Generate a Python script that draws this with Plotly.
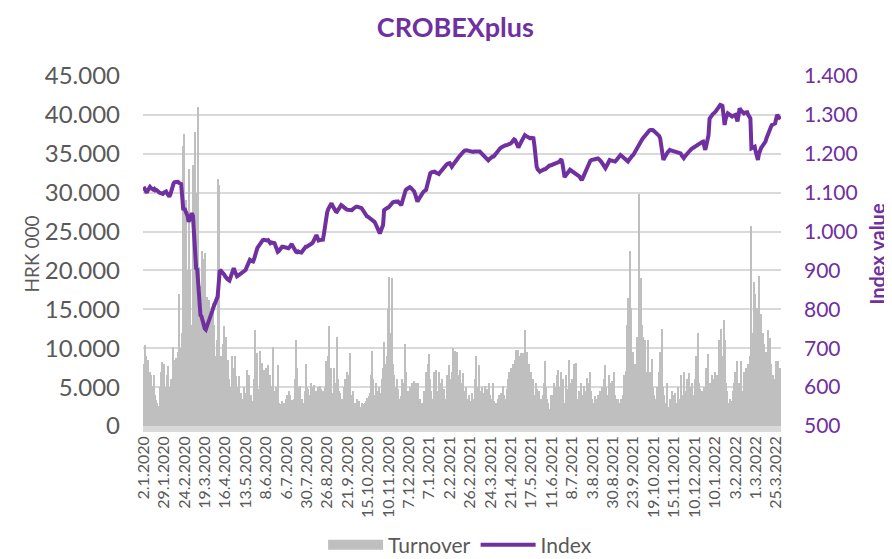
"""CROBEXplus index and daily turnover, 2020-2022."""
import plotly.graph_objects as go
from plotly.subplots import make_subplots

# x axis labels, one every 19 trading days
tick_labels = ['2.1.2020', '29.1.2020', '24.2.2020', '19.3.2020', '16.4.2020', '13.5.2020',
               '8.6.2020', '6.7.2020', '30.7.2020', '26.8.2020', '21.9.2020', '15.10.2020',
               '10.11.2020', '7.12.2020', '7.1.2021', '2.2.2021', '26.2.2021', '24.3.2021',
               '21.4.2021', '17.5.2021', '11.6.2021', '8.7.2021', '3.8.2021', '30.8.2021',
               '23.9.2021', '19.10.2021', '15.11.2021', '10.12.2021', '10.1.2022', '3.2.2022',
               '1.3.2022', '25.3.2022']

# daily turnover, HRK 000
turnover = [
    8000, 10400, 9000, 6000, 8500, 5500, 7000, 6500, 5200, 4500, 6500, 4000, 3400, 3000, 2600, 5000, 7000, 8200, 6000,
    8000, 5000, 4500, 6500, 7700, 5000, 4200, 6000, 10200, 8500, 6500, 8800, 7200, 9500, 17000, 8000, 10000, 12000, 36000,
    37500, 25000, 29000, 20000, 33000, 20000, 11500, 13000, 33500, 24000, 37800, 30000, 21000, 41000, 20500, 18000, 22500, 15000, 21500,
    22200, 14000, 16600, 12000, 16200, 11000, 14000, 10000, 15800, 13000, 9000, 11000, 31800, 31000, 7700, 9000, 6500, 10500, 12800,
    8000, 11500, 7000, 8500, 6000, 5000, 9000, 7500, 4500, 9000, 6400, 5000, 3800, 6400, 3000, 4300, 2800, 3500, 5000,
    4200, 7200, 3500, 6500, 2500, 4000, 3200, 3000, 6000, 12400, 5500, 9400, 4800, 9600, 6000, 8100, 4500, 7200, 3500,
    7500, 5000, 7800, 4500, 6500, 3800, 5200, 10200, 4500, 5000, 4000, 7800, 3000, 2600, 2800, 3200, 2500, 3000, 2900,
    3500, 4000, 4500, 4000, 3200, 3400, 3000, 3500, 6000, 11000, 7500, 5000, 3500, 5200, 2500, 3500, 3000, 4500, 8000,
    5000, 4800, 3000, 4000, 5500, 3500, 5000, 5300, 3600, 4500, 5000, 3200, 5200, 4800, 3500, 4500, 3000, 5000, 8400,
    7000, 9000, 12800, 6000, 7500, 4200, 7500, 5500, 4000, 11500, 6000, 4500, 4200, 3500, 2800, 3500, 5000, 6000, 7000,
    6500, 5000, 9400, 4000, 3600, 4500, 3000, 2500, 3000, 3500, 2800, 3200, 2500, 3000, 2200, 2800, 3000, 3200, 3600,
    3000, 3800, 4200, 6500, 9600, 6000, 4000, 5500, 4500, 3500, 5000, 4200, 3500, 6000, 7500, 10800, 8000, 6000, 9000,
    15100, 19100, 12000, 19000, 8000, 6600, 4500, 5000, 6000, 4800, 3500, 3000, 3800, 6000, 5500, 10500, 7000, 4500, 3200,
    4500, 5000, 3800, 5500, 4500, 5800, 4000, 5500, 3800, 5500, 3500, 2800, 3000, 2200, 4500, 3000, 7000, 6000, 8000,
    9300, 6000, 4500, 3500, 7000, 5000, 7200, 4500, 3800, 7000, 5500, 4200, 6000, 3500, 4800, 3500, 3000, 6500, 7900,
    6000, 5000, 7000, 10000, 8000, 9600, 7500, 9500, 6500, 5000, 7200, 5500, 6800, 4500, 4000, 5000, 3000, 3500, 4000,
    2500, 3200, 4200, 3000, 3500, 6000, 9000, 5000, 7800, 4500, 3500, 5000, 4200, 3000, 5200, 3500, 4800, 3000, 5500,
    4000, 3500, 5500, 3200, 2500, 3000, 2200, 3500, 4000, 3000, 4200, 3800, 5200, 4000, 3500, 4800, 6000, 7000, 5500,
    7500, 6000, 8000, 6500, 8500, 9800, 8000, 9800, 9000, 9400, 8500, 9400, 8000, 12400, 7000, 9500, 6000, 8000, 5000,
    7000, 5500, 6000, 4000, 5500, 4800, 3500, 4500, 2800, 3500, 2500, 4000, 5500, 8300, 5000, 3500, 3000, 2200, 4000,
    3000, 4000, 5500, 4000, 5000, 6500, 7200, 3500, 5000, 7000, 4500, 6000, 3000, 6500, 4800, 3500, 8500, 5500, 3500,
    6000, 4500, 8000, 5500, 8100, 3500, 4500, 3800, 5500, 3200, 4000, 5200, 3500, 4500, 6200, 3800, 5500, 7000, 4500,
    3500, 3000, 3800, 2500, 3500, 4000, 2800, 4500, 3500, 5000, 3200, 6000, 7900, 5000, 4000, 6500, 5500, 3500, 5800,
    4500, 7000, 4000, 3500, 3000, 3500, 2800, 3000, 3500, 4000, 6500, 5000, 7100, 13000, 16400, 12000, 22500, 15200, 8000,
    9500, 6500, 8000, 11500, 9000, 29800, 17000, 19000, 13000, 11500, 8000, 11000, 7000, 6000, 11000, 5500, 7000, 8600, 5000,
    4000, 2300, 3500, 5000, 4000, 7000, 9500, 6000, 12500, 5000, 4000, 3000, 5500, 2500, 2000, 3500, 3000, 4500, 4000,
    3500, 4200, 3000, 2800, 5000, 3500, 6500, 4000, 3200, 7000, 4500, 3500, 6000, 4000, 6800, 5000, 3500, 5500, 4000,
    6000, 9000, 7000, 12000, 5500, 4800, 3500, 4500, 3000, 5000, 4000, 7500, 6000, 9300, 5500, 4500, 6500, 4800, 6000,
    7000, 4500, 6500, 5000, 11000, 8000, 12500, 9000, 13600, 11000, 5500, 4500, 3000, 2200, 3500, 2500, 3200, 4500, 5500,
    7000, 4500, 8300, 5500, 3800, 8300, 4500, 3500, 7000, 5000, 7500, 5500, 8000, 6000, 9000, 25700, 12000, 18500, 17000,
    12000, 15200, 11000, 19300, 13000, 14400, 9000, 12000, 10600, 8000, 9500, 12400, 7000, 11300, 8000, 5500, 6500, 4500, 6000,
    8300, 6500, 8400, 7000, 7500,
]

# daily index value
index_value = [
    1115, 1108, 1104, 1100, 1106, 1112, 1115, 1112, 1110, 1108, 1110, 1106, 1107, 1104, 1102, 1100, 1099, 1098, 1097,
    1100, 1102, 1103, 1098, 1094, 1090, 1096, 1108, 1120, 1124, 1127, 1128, 1129, 1128, 1125, 1124, 1122, 1090, 1055,
    1060, 1054, 1051, 1040, 1025, 1032, 1042, 1047, 1040, 975, 910, 905, 902, 850, 790, 785, 781, 770, 760,
    751, 748, 755, 762, 770, 781, 788, 796, 805, 815, 820, 826, 833, 870, 901, 899, 897, 893, 890,
    885, 880, 878, 876, 874, 882, 892, 900, 906, 898, 890, 885, 887, 889, 891, 893, 896, 898, 899,
    901, 908, 915, 922, 927, 925, 924, 923, 930, 942, 953, 958, 962, 967, 972, 976, 978, 979, 978,
    978, 977, 978, 975, 970, 972, 971, 970, 970, 962, 955, 948, 950, 954, 958, 961, 961, 960, 959,
    958, 957, 957, 960, 964, 968, 962, 955, 950, 948, 947, 949, 947, 946, 946, 950, 955, 958, 961,
    961, 963, 964, 966, 966, 970, 974, 979, 985, 991, 984, 977, 978, 979, 979, 979, 995, 1020, 1043,
    1050, 1058, 1065, 1070, 1073, 1066, 1060, 1055, 1052, 1051, 1056, 1061, 1065, 1068, 1066, 1063, 1060, 1058, 1057,
    1056, 1056, 1055, 1055, 1055, 1058, 1061, 1063, 1064, 1064, 1063, 1062, 1061, 1060, 1056, 1051, 1046, 1042, 1039,
    1038, 1036, 1035, 1034, 1032, 1029, 1025, 1020, 1012, 1004, 998, 995, 1002, 1010, 1017, 1055, 1058, 1060, 1061,
    1062, 1066, 1070, 1073, 1075, 1076, 1077, 1077, 1076, 1077, 1074, 1071, 1068, 1078, 1090, 1103, 1106, 1109, 1111,
    1113, 1114, 1112, 1110, 1107, 1103, 1095, 1085, 1077, 1082, 1088, 1094, 1098, 1100, 1103, 1105, 1107, 1118, 1132,
    1142, 1150, 1152, 1153, 1154, 1154, 1152, 1150, 1148, 1148, 1152, 1156, 1159, 1163, 1167, 1171, 1172, 1174, 1175,
    1176, 1172, 1167, 1171, 1176, 1180, 1184, 1186, 1190, 1194, 1198, 1202, 1204, 1206, 1208, 1210, 1209, 1208, 1207,
    1206, 1207, 1206, 1205, 1206, 1206, 1207, 1206, 1205, 1206, 1203, 1200, 1196, 1192, 1189, 1186, 1184, 1183, 1186,
    1189, 1191, 1193, 1193, 1197, 1201, 1205, 1210, 1212, 1214, 1216, 1218, 1220, 1221, 1222, 1222, 1223, 1223, 1224,
    1227, 1230, 1233, 1237, 1235, 1228, 1220, 1216, 1222, 1227, 1231, 1237, 1243, 1248, 1246, 1244, 1242, 1240, 1240,
    1241, 1240, 1240, 1220, 1190, 1167, 1160, 1156, 1154, 1156, 1158, 1159, 1160, 1160, 1163, 1166, 1169, 1170, 1170,
    1171, 1171, 1172, 1173, 1174, 1175, 1176, 1179, 1183, 1186, 1175, 1150, 1140, 1144, 1148, 1152, 1156, 1159, 1157,
    1155, 1153, 1151, 1150, 1148, 1146, 1144, 1141, 1136, 1132, 1138, 1145, 1152, 1159, 1165, 1172, 1180, 1182, 1184,
    1185, 1186, 1187, 1188, 1189, 1188, 1186, 1184, 1180, 1176, 1171, 1166, 1163, 1168, 1174, 1180, 1184, 1183, 1182,
    1181, 1180, 1180, 1183, 1187, 1191, 1194, 1197, 1195, 1193, 1191, 1188, 1185, 1182, 1180, 1184, 1189, 1193, 1195,
    1197, 1202, 1208, 1214, 1220, 1226, 1231, 1234, 1236, 1240, 1244, 1248, 1252, 1255, 1258, 1260, 1261, 1262, 1261,
    1259, 1257, 1255, 1253, 1250, 1246, 1240, 1225, 1200, 1184, 1190, 1196, 1201, 1204, 1207, 1210, 1209, 1208, 1207,
    1206, 1206, 1205, 1204, 1203, 1202, 1201, 1196, 1192, 1189, 1193, 1197, 1201, 1203, 1206, 1209, 1212, 1214, 1216,
    1218, 1221, 1223, 1225, 1226, 1228, 1229, 1230, 1231, 1220, 1210, 1222, 1236, 1248, 1290, 1296, 1299, 1302, 1304,
    1306, 1310, 1314, 1318, 1322, 1326, 1325, 1323, 1300, 1274, 1290, 1300, 1304, 1302, 1299, 1297, 1296, 1298, 1300,
    1300, 1292, 1283, 1300, 1317, 1312, 1308, 1305, 1304, 1306, 1308, 1307, 1300, 1296, 1291, 1214, 1216, 1218, 1218,
    1205, 1192, 1184, 1200, 1211, 1215, 1219, 1223, 1227, 1231, 1240, 1249, 1257, 1262, 1268, 1274, 1276, 1277, 1278,
    1290, 1300, 1296, 1292, 1289,
]

days = list(range(len(turnover)))

PURPLE = '#7030A0'
BAR_GRAY = '#BFBFBF'
GRAY_TEXT = '#595959'
FONT = 'Lato'

fig = make_subplots(specs=[[{"secondary_y": True}]])
# legend-only entry so the turnover key is a wide grey block like in excel
fig.add_trace(
    go.Scatter(x=[None], y=[None], name='Turnover', mode='lines',
               line=dict(color=BAR_GRAY, width=14), hoverinfo='skip'),
    secondary_y=False,
)
fig.add_trace(
    go.Bar(x=days, y=turnover, name='Turnover', showlegend=False,
           marker=dict(color=BAR_GRAY, line=dict(width=0))),
    secondary_y=False,
)
fig.add_trace(
    go.Scatter(x=days, y=index_value, name='Index', mode='lines',
               line=dict(color=PURPLE, width=4)),
    secondary_y=True,
)

# light band under the zero line, like the excel axis
fig.add_shape(type='rect', xref='paper', x0=0, x1=1, yref='y', y0=-771, y1=0,
              fillcolor='#D9D9D9', line=dict(width=0), layer='below')

# the page puts the figure 8px in from the top left, so it is 8px smaller
fig.update_layout(
    width=884, height=551,
    margin=dict(l=135, r=111, t=68, b=127, autoexpand=False),
    plot_bgcolor='white', paper_bgcolor='white',
    bargap=0,
    separators=',.',
    font=dict(family=FONT, color=GRAY_TEXT),
    title=dict(text='<b>CROBEXplus</b>', font=dict(size=27, color=PURPLE, family=FONT),
               x=0.506, xanchor='center', y=0.965, yanchor='middle'),
    legend=dict(orientation='h', x=0.497, xanchor='center', y=-0.318, yanchor='middle',
                font=dict(size=21, color=GRAY_TEXT), traceorder='normal',
                itemwidth=55, entrywidth=0),
    showlegend=True,
)
fig.update_xaxes(range=[-0.5, len(days) - 0.5], domain=[0, 1], automargin=False,
                 tickmode='array', tickvals=days[::19], ticktext=tick_labels,
                 tickangle=-90, tickfont=dict(size=16, color=GRAY_TEXT),
                 ticklabelstandoff=0,
                 showgrid=False, zeroline=False, ticks='')
fig.update_yaxes(title_text='HRK 000', title_font=dict(size=19, color=GRAY_TEXT),
                 title_standoff=0, automargin=False,
                 range=[-771, 45000], tick0=0, dtick=5000, tickformat=',.0f',
                 tickfont=dict(size=24, color=GRAY_TEXT), ticklabelstandoff=22,
                 showgrid=True, gridcolor='#D9D9D9', gridwidth=2, zeroline=False,
                 secondary_y=False)
fig.update_yaxes(title_text='<b>Index value</b>', title_font=dict(size=20, color=PURPLE),
                 title_standoff=14, automargin=False,
                 range=[484.6, 1400], tick0=500, dtick=100, tickformat=',.0f',
                 tickfont=dict(size=21, color=PURPLE), ticklabelstandoff=22,
                 showgrid=False, zeroline=False,
                 secondary_y=True)

fig.write_html("out.html")
